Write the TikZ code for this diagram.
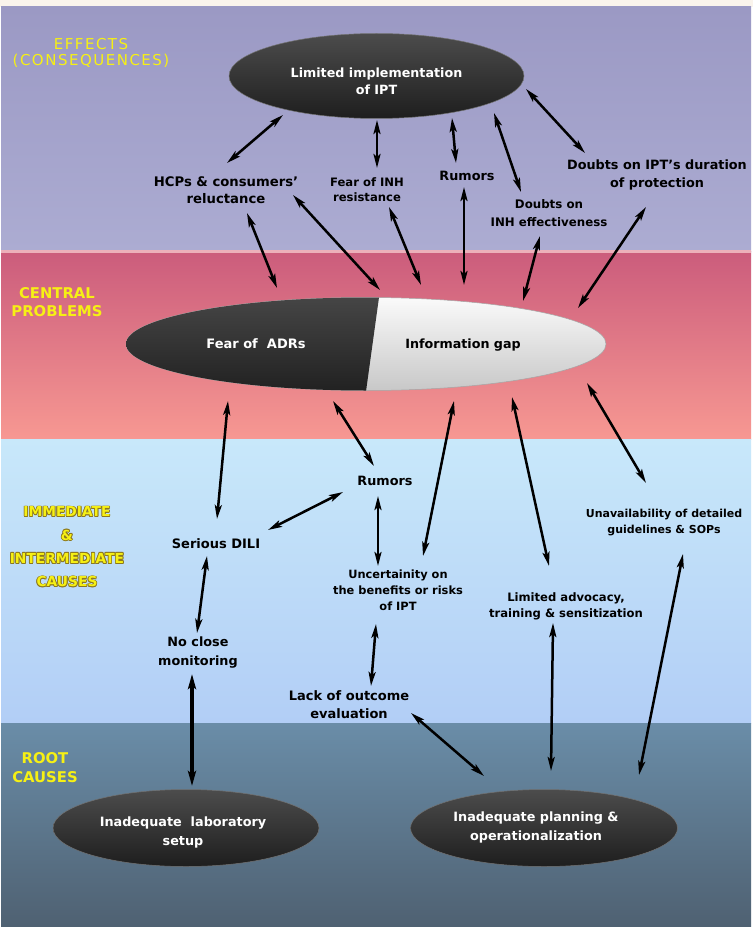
\documentclass[tikz,border=0pt]{standalone}
\usepackage{fontspec}
\setmainfont{DejaVu Sans}
\newfontfamily\lsfont[LetterSpace=10]{DejaVu Sans}
\usetikzlibrary{arrows.meta,shapes.geometric,calc}
\definecolor{effTop}{RGB}{155,153,196}
\definecolor{effBot}{RGB}{172,172,210}
\definecolor{cenTop}{RGB}{203,92,124}
\definecolor{cenBot}{RGB}{247,152,146}
\definecolor{immTop}{RGB}{200,232,250}
\definecolor{immBot}{RGB}{178,206,246}
\definecolor{rootTop}{RGB}{106,141,168}
\definecolor{rootBot}{RGB}{79,97,114}
\definecolor{darkTop}{RGB}{76,76,76}
\definecolor{darkBot}{RGB}{30,30,30}
\definecolor{lightTop}{RGB}{250,250,250}
\definecolor{lightBot}{RGB}{200,200,200}
\definecolor{ylw}{RGB}{246,240,20}
\definecolor{olv}{RGB}{140,120,30}
\definecolor{cream}{RGB}{250,244,236}
\definecolor{hline}{RGB}{236,176,186}
\begin{document}
\begin{tikzpicture}[x=1pt,y=-1pt,
  fs/.style 2 args={font=\bfseries\fontsize{#1}{#2}\selectfont},
  lbl/.style={align=center,text=black,inner sep=1pt},
  wlbl/.style={align=center,text=white,inner sep=1pt},
  darkell/.style={ellipse,inner sep=0pt,top color=darkTop,bottom color=darkBot,draw=black!55,line width=0.5pt},
  ylab/.style={align=center,text=ylw,inner sep=0pt},
  dbl/.style={{Stealth[length=14pt,width=7pt,inset=3pt]}-{Stealth[length=14pt,width=7pt,inset=3pt]},line width=2.5pt,black},
  dblthick/.style={{Stealth[length=15pt,width=8pt,inset=3pt]}-{Stealth[length=15pt,width=8pt,inset=3pt]},line width=3.6pt,black}
]
\useasboundingbox (0,0) rectangle (753,933);
% background bands
\fill[white] (0,0) rectangle (753,933);
\fill[cream] (0,0) rectangle (753,7);
\shade[top color=effTop,bottom color=effBot] (1,7) rectangle (751,251);
\shade[top color=cenTop,bottom color=cenBot] (1,251) rectangle (751,439);
\fill[hline] (1,250) rectangle (751,252.5);
\shade[top color=immTop,bottom color=immBot] (1,439) rectangle (751,723);
\shade[top color=rootTop,bottom color=rootBot] (1,723) rectangle (751,926);

% band labels
\node[ylab,font=\lsfont\fontsize{15}{15.5}\selectfont] (effl) at (91,53) {EFFECTS\\(CONSEQUENCES)};
\node[ylab,fs={14.8}{18}] (cenl) at (57,302) {CENTRAL\\PROBLEMS};
\foreach \dx/\dy in {-0.8/0,0.8/0,0/-0.8,0/0.8,-0.6/-0.6,0.6/0.6,-0.6/0.6,0.6/-0.6}
  \node[ylab,fs={13.8}{23.3},text=olv] at ({67+\dx},{547+\dy}) {IMMEDIATE\\\&\\INTERMEDIATE\\CAUSES};
\node[ylab,fs={13.8}{23.3}] (imml) at (67,547) {IMMEDIATE\\\&\\INTERMEDIATE\\CAUSES};
\node[ylab,fs={14.8}{19}] (rootl) at (45,768) {ROOT\\CAUSES};

% ellipses
\node[darkell,minimum width=295pt,minimum height=85pt] (lim) at (376.5,76) {};
\node[wlbl,fs={12.7}{17}] (limt) at (376.5,81) {Limited implementation\\of IPT};

\node[ellipse,inner sep=0pt,minimum width=480pt,minimum height=93pt,top color=lightTop,bottom color=lightBot,draw=black!35,line width=0.5pt] (central) at (366,344) {};
\begin{scope}
  \clip (366,344) ellipse [x radius=240, y radius=46.5];
  \shade[top color=darkTop,bottom color=darkBot] (100,280) -- (381.4,280) -- (364.8,400) -- (100,400) -- cycle;
\end{scope}
\node[wlbl,fs={13}{16}] (fear) at (256,344) {Fear of \ ADRs};
\node[lbl,fs={12.7}{16}] (info) at (463,345) {Information gap};

\node[darkell,minimum width=266pt,minimum height=77pt] (lab) at (186,828) {};
\node[wlbl,fs={12.8}{19}] (labt) at (183,832) {Inadequate \ laboratory\\setup};
\node[darkell,minimum width=267pt,minimum height=77pt] (plan) at (544,828) {};
\node[wlbl,fs={12.8}{19}] (plant) at (536,827) {Inadequate planning \&\\operationalization};

% text nodes
\node[lbl,fs={13.2}{17}] (hcp) at (226,190) {HCPs \& consumers’\\reluctance};
\node[lbl,fs={11.6}{15}] (finh) at (367,190) {Fear of INH\\resistance};
\node[lbl,fs={12.8}{16}] (rum1) at (467,176) {Rumors};
\node[lbl,fs={11.8}{18}] (dinh) at (549,213) {Doubts on\\INH effectiveness};
\node[lbl,fs={12.8}{18}] (dipt) at (657,175) {Doubts on IPT’s duration\\of protection};
\node[lbl,fs={12.8}{16}] (rum2) at (385,481) {Rumors};
\node[lbl,fs={13}{16}] (dili) at (216,544) {Serious DILI};
\node[lbl,fs={11.4}{16}] (unc) at (398,590) {Uncertainity on\\the benefits or risks\\of IPT};
\node[lbl,fs={13}{18}] (lack) at (349,705) {Lack of outcome\\evaluation};
\node[lbl,fs={12.8}{19}] (noclose) at (198,653) {No close\\monitoring};
\node[lbl,fs={11.6}{16}] (adv) at (566,606) {Limited advocacy,\\training \& sensitization};
\node[lbl,fs={11}{16}] (unav) at (664,523) {Unavailability of detailed\\guidelines \& SOPs};

% connectors
\foreach \n/\xa/\ya/\xb/\yb in {
  hcplim/227/163/283/115, finhlim/377/168/377/120, rumlim/456/163/452/118,
  dinhlim/521/192/494/113, diptlim/585/153/526/89,
  hcpcen/247/213/277/288, hcpcenb/293/195/380/290, finhcen/389/207/421/285,
  rumcen/464/187/464/285, dinhcen/540/236/523/301, diptcen/646/207/578/308,
  dilicen/217/519/228/401, rumtcen/374/466/333/401, unccen/423/556/454/401,
  advcen/549/566/512/397, unavcen/646/483/587/383,
  dilirum/268/530/343/492, rumunc/378/496/378/566, unclack/376/624/371/686,
  dilinc/207/556/197/633, lackplan/411/713/484/776, advplan/553/623/551/771,
  unavplan/683/554/639/775}
{
  \coordinate (\n-s) at (\xa,\ya);
  \coordinate (\n-e) at (\xb,\yb);
  \draw[dbl] (\n-s) -- (\n-e);
}
\coordinate (nclab-s) at (192,674);
\coordinate (nclab-e) at (192,786);
\draw[dblthick] (nclab-s) -- (nclab-e);
\end{tikzpicture}
\end{document}
